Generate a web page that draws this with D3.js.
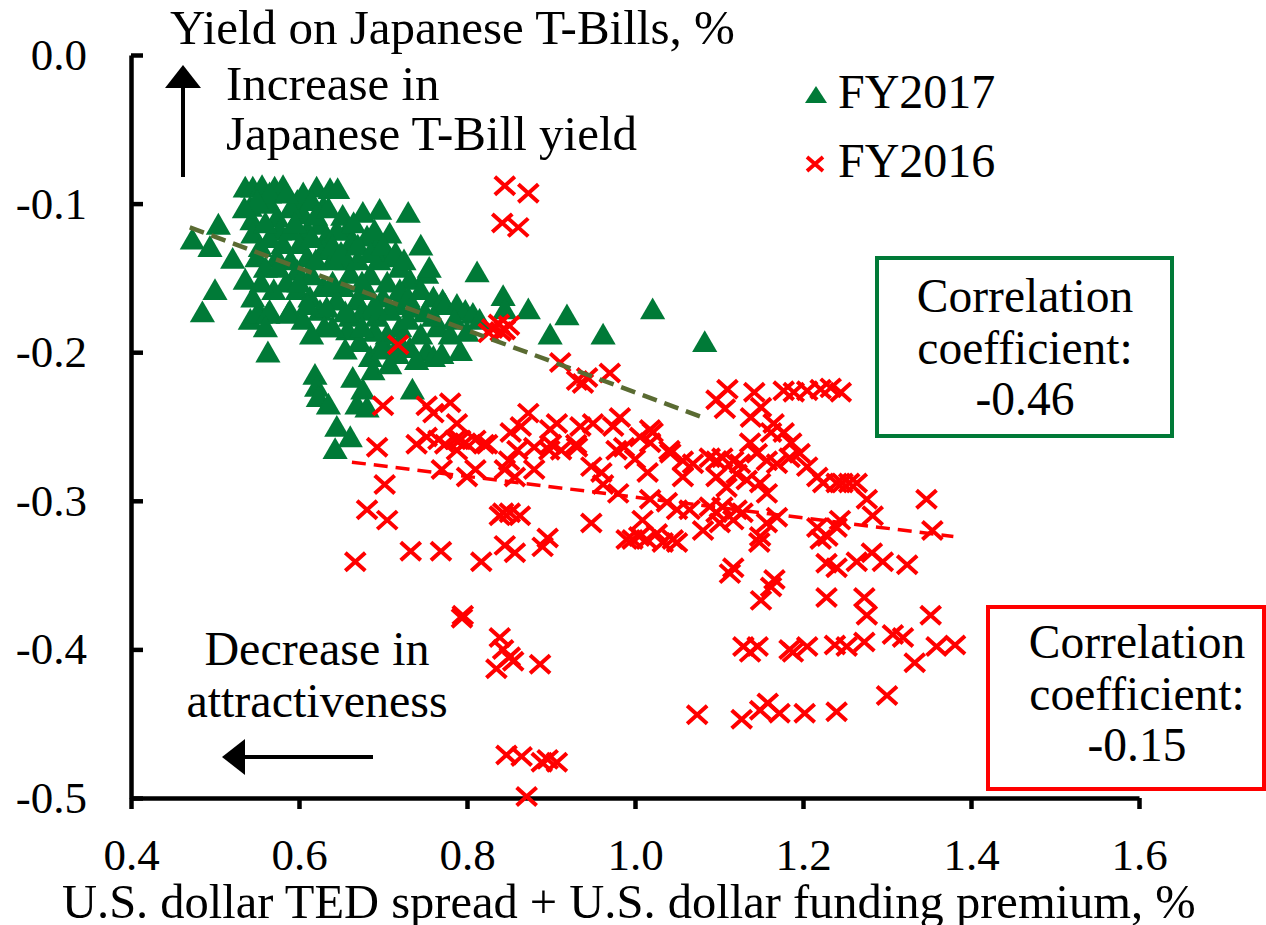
<!DOCTYPE html>
<html>
<head>
<meta charset="utf-8">
<script src="https://cdn.jsdelivr.net/npm/d3@7"></script>
<style>
  html, body { margin: 0; padding: 0; background: #fff; }
  svg { display: block; font-family: "Liberation Serif", "Times New Roman", serif; }
</style>
</head>
<body>
<svg id="chart" width="1266" height="925"></svg>
<script>
// Japanese T-Bill yield vs USD TED spread + funding premium, FY2016 / FY2017

var X_TICKS = [0.4, 0.6, 0.8, 1.0, 1.2, 1.4, 1.6];
var Y_TICKS = [0.0, -0.1, -0.2, -0.3, -0.4, -0.5];

var SERIES_NAMES = ["FY2017", "FY2016"];
var CORR_2017 = "-0.46";
var CORR_2016 = "-0.15";

// fitted lines, endpoints
var TREND_2017 = [[0.470, -0.116], [1.081, -0.244]];
var TREND_2016 = [[0.663, -0.274], [1.379, -0.324]];

// FY2017 (green triangles)
var FY2017 = [
  [0.473,-0.126],[0.504,-0.116],[0.494,-0.131],[0.521,-0.139],[0.536,-0.153],[0.500,-0.160],[0.485,-0.175],
  [0.536,-0.091],[0.545,-0.091],[0.556,-0.090],[0.571,-0.091],[0.581,-0.090],
  [0.621,-0.091],[0.637,-0.092],[0.646,-0.092],
  [0.542,-0.104],[0.544,-0.113],[0.545,-0.122],[0.554,-0.131],[0.550,-0.138],
  [0.565,-0.102],[0.574,-0.111],[0.577,-0.120],[0.581,-0.129],[0.574,-0.138],
  [0.598,-0.100],[0.605,-0.109],[0.610,-0.120],[0.601,-0.129],[0.610,-0.138],[0.598,-0.147],
  [0.629,-0.104],[0.625,-0.116],[0.633,-0.124],[0.629,-0.133],
  [0.652,-0.110],[0.657,-0.120],[0.661,-0.129],[0.657,-0.140],[0.661,-0.149],[0.652,-0.158],
  [0.676,-0.108],[0.696,-0.106],[0.730,-0.108],
  [0.681,-0.124],[0.693,-0.131],[0.708,-0.122],[0.708,-0.138],[0.720,-0.145],[0.732,-0.153],[0.752,-0.149],
  [0.598,-0.160],[0.613,-0.165],[0.629,-0.158],[0.645,-0.167],[0.669,-0.167],[0.681,-0.160],[0.700,-0.165],
  [0.717,-0.170],[0.736,-0.172],[0.760,-0.165],[0.771,-0.167],
  [0.554,-0.176],[0.565,-0.174],[0.589,-0.174],[0.625,-0.174],
  [0.542,-0.180],[0.550,-0.176],[0.563,-0.176],[0.587,-0.176],
  [0.560,-0.185],[0.563,-0.202],[0.633,-0.172],
  [0.661,-0.178],[0.676,-0.174],[0.693,-0.178],[0.708,-0.174],[0.658,-0.187],
  [0.685,-0.205],[0.700,-0.196],[0.717,-0.203],[0.732,-0.199],[0.752,-0.201],[0.760,-0.205],[0.740,-0.207],
  [0.688,-0.214],[0.708,-0.210],
  [0.619,-0.217],[0.621,-0.225],[0.623,-0.232],[0.635,-0.237],
  [0.664,-0.219],[0.676,-0.227],[0.669,-0.237],[0.681,-0.239],
  [0.645,-0.252],[0.661,-0.259],[0.643,-0.267],[0.735,-0.227],
  [0.812,-0.148],[0.843,-0.164],[0.845,-0.173],[0.873,-0.173],[0.919,-0.177],[0.899,-0.190],[0.962,-0.190],
  [1.021,-0.173],[1.083,-0.195],
  [0.774,-0.170],[0.788,-0.170],[0.798,-0.174],[0.807,-0.176],[0.792,-0.201],[0.770,-0.203],
  [0.720,-0.185],[0.745,-0.190],[0.765,-0.185],[0.780,-0.190],[0.730,-0.180],[0.705,-0.190],[0.690,-0.188],
  [0.672,-0.195],[0.760,-0.178],[0.785,-0.180],[0.800,-0.188],[0.815,-0.180],
  [0.590,-0.120],[0.590,-0.140],[0.585,-0.155],[0.615,-0.150],[0.640,-0.140],[0.645,-0.120],[0.620,-0.140],
  [0.670,-0.140],[0.685,-0.150],[0.695,-0.140],[0.705,-0.155],[0.720,-0.160],[0.640,-0.155],[0.675,-0.155],
  [0.565,-0.125],[0.560,-0.145],[0.570,-0.160],[0.605,-0.180],[0.640,-0.185],[0.655,-0.200],
  [0.605,-0.095],[0.590,-0.105],[0.565,-0.095],[0.615,-0.100],[0.745,-0.130],[0.755,-0.145],
  [0.550,-0.100],[0.560,-0.115],[0.585,-0.095],[0.595,-0.115],[0.615,-0.125],[0.620,-0.110],[0.635,-0.105],
  [0.640,-0.130],[0.650,-0.135],[0.665,-0.115],[0.670,-0.130],[0.685,-0.135],[0.690,-0.120],[0.700,-0.130],
  [0.715,-0.135],[0.725,-0.140],[0.730,-0.165],[0.745,-0.160],[0.750,-0.175],[0.690,-0.170],[0.655,-0.175],
  [0.630,-0.185],[0.615,-0.190],[0.700,-0.200],[0.720,-0.195],[0.675,-0.185],[0.610,-0.170],[0.575,-0.145],
  [0.600,-0.155],[0.535,-0.105],[0.555,-0.155],[0.545,-0.165]
];

// FY2016 (red crosses)
var FY2016 = [
  [0.845,-0.088],[0.873,-0.093],[0.842,-0.113],[0.861,-0.116],
  [0.830,-0.184],[0.838,-0.181],[0.845,-0.185],[0.826,-0.187],[0.850,-0.182],[0.840,-0.186],
  [0.718,-0.195],
  [0.911,-0.207],[0.931,-0.219],[0.943,-0.217],[0.938,-0.221],[0.970,-0.214],
  [1.097,-0.232],[1.110,-0.225],[1.107,-0.238],
  [0.873,-0.241],[0.780,-0.234],[0.788,-0.248],
  [0.852,-0.254],[0.864,-0.250],[0.907,-0.248],[0.899,-0.252],[0.935,-0.250],[0.950,-0.248],[0.982,-0.244],
  [0.974,-0.250],[1.006,-0.257],[1.021,-0.254],
  [0.792,-0.259],[0.824,-0.262],[0.788,-0.266],[0.898,-0.266],[0.931,-0.264],[0.987,-0.264],[1.041,-0.266],
  [1.142,-0.227],[1.150,-0.237],[1.177,-0.226],[1.189,-0.227],[1.205,-0.226],[1.221,-0.225],[1.233,-0.224],[1.245,-0.227],
  [1.138,-0.244],[1.165,-0.248],[1.177,-0.254],[1.162,-0.254],[1.186,-0.261],
  [1.018,-0.252],[1.018,-0.261],
  [1.042,-0.268],[1.057,-0.273],[1.069,-0.275],[1.057,-0.284],
  [1.089,-0.271],[1.097,-0.273],[1.104,-0.271],[1.117,-0.273],[1.125,-0.275],
  [1.137,-0.261],[1.145,-0.268],[1.157,-0.273],[1.169,-0.275],[1.184,-0.271],[1.196,-0.268],[1.205,-0.277],
  [1.217,-0.284],[1.224,-0.288],[1.240,-0.288],[1.247,-0.288],[1.255,-0.288],[1.264,-0.288],
  [1.097,-0.284],[1.109,-0.291],[1.121,-0.282],[1.133,-0.286],[1.149,-0.288],[1.157,-0.295],
  [1.276,-0.299],[1.283,-0.310],[1.347,-0.299],[1.354,-0.320],
  [1.018,-0.299],[1.038,-0.301],[1.050,-0.306],[1.065,-0.306],[1.089,-0.304],[1.097,-0.308],[1.104,-0.304],
  [1.121,-0.306],[1.128,-0.308],
  [1.081,-0.320],[1.101,-0.315],[1.117,-0.313],[1.149,-0.324],[1.157,-0.315],[1.169,-0.311],[1.217,-0.318],
  [1.229,-0.324],[1.240,-0.318],[1.244,-0.313],
  [1.026,-0.322],[1.045,-0.326],[1.221,-0.326],
  [1.033,-0.328],[1.050,-0.328],[1.148,-0.328],
  [1.117,-0.345],[1.113,-0.349],[1.166,-0.353],[1.162,-0.358],[1.150,-0.367],
  [1.228,-0.342],[1.240,-0.345],[1.264,-0.341],[1.282,-0.335],[1.295,-0.341],[1.324,-0.343],
  [1.228,-0.365],[1.273,-0.365],[1.276,-0.377],[1.352,-0.377],
  [1.129,-0.398],[1.146,-0.398],[1.137,-0.402],[1.184,-0.400],[1.188,-0.402],[1.205,-0.398],[1.238,-0.397],
  [1.252,-0.398],[1.273,-0.395],[1.307,-0.390],[1.319,-0.392],[1.333,-0.409],[1.359,-0.398],[1.381,-0.397],
  [1.300,-0.431],
  [1.074,-0.444],[1.127,-0.447],[1.149,-0.441],[1.158,-0.436],[1.172,-0.443],[1.202,-0.443],[1.240,-0.442],
  [0.681,-0.306],[0.705,-0.313],[0.667,-0.341],[0.733,-0.334],[0.769,-0.334],[0.817,-0.341],
  [0.843,-0.308],[0.851,-0.308],[0.863,-0.310],[0.839,-0.310],
  [0.845,-0.330],[0.857,-0.335],[0.890,-0.331],[0.896,-0.325],[0.948,-0.315],
  [0.990,-0.326],[0.997,-0.326],[1.005,-0.324],[1.014,-0.326],[1.009,-0.313],
  [0.795,-0.377],[0.794,-0.379],
  [0.839,-0.392],[0.843,-0.400],[0.851,-0.405],[0.835,-0.413],[0.855,-0.408],[0.887,-0.410],
  [0.847,-0.471],[0.865,-0.472],[0.889,-0.476],[0.907,-0.476],[0.896,-0.474],[0.871,-0.499],
  [0.700,-0.236],[0.693,-0.264],[0.752,-0.236],[0.760,-0.241],[0.702,-0.289],
  [0.740,-0.262],[0.752,-0.257],[0.766,-0.259],[0.774,-0.262],[0.786,-0.259],[0.798,-0.261],[0.810,-0.259],
  [0.820,-0.262],[0.850,-0.273],[0.860,-0.266],[0.880,-0.264],[0.770,-0.279],[0.800,-0.284],[0.810,-0.279],
  [0.845,-0.279],[0.857,-0.284],[0.880,-0.279],[0.900,-0.262],[0.912,-0.266],[0.930,-0.262],[0.948,-0.277],
  [0.960,-0.281],[0.978,-0.266],[1.000,-0.272],[1.015,-0.281],[0.962,-0.289],[0.980,-0.295]
];

var GREEN = "#007a37", RED = "#ff0000", OLIVE = "#5a6b32", INK = "#000";

var svg = d3.select("#chart");
var x = d3.scaleLinear().domain([0.4, 1.6]).range([131, 1139]);
var y = d3.scaleLinear().domain([-0.5, 0]).range([798, 55]);
var fmt = function (d) { return d.toFixed(1); };

// axes
var gy = svg.append("g").attr("transform", "translate(" + x(0.4) + ",0)")
  .call(d3.axisLeft(y).tickValues(Y_TICKS).tickFormat(fmt).tickSizeInner(-12).tickSizeOuter(0).tickPadding(44));
var gx = svg.append("g").attr("transform", "translate(0," + y(-0.5) + ")")
  .call(d3.axisBottom(x).tickValues(X_TICKS).tickFormat(fmt).tickSizeInner(11).tickSizeOuter(0).tickPadding(29));
[gx, gy].forEach(function (g) {
  g.select(".domain").attr("stroke", INK).attr("stroke-width", 4.5);
  g.selectAll(".tick line").attr("stroke", INK).attr("stroke-width", 4.5);
  g.selectAll(".tick text").attr("fill", INK).style("font-size", "45px")
    .style("font-family", "'Liberation Serif', 'Times New Roman', serif");
});

// points
var tri = d3.symbol().type(d3.symbolTriangle).size(275);
svg.append("g").selectAll("path").data(FY2017).join("path")
  .attr("d", tri).attr("fill", GREEN)
  .attr("transform", function (d) { return "translate(" + x(d[0]) + "," + y(d[1]) + ")"; });

var cross = "M-10,-9L10,9M-10,9L10,-9";
svg.append("g").selectAll("path").data(FY2016).join("path")
  .attr("d", cross).attr("fill", "none").attr("stroke", RED).attr("stroke-width", 4)
  .attr("transform", function (d) { return "translate(" + x(d[0]) + "," + y(d[1]) + ")"; });

// trend lines
var line = d3.line().x(function (d) { return x(d[0]); }).y(function (d) { return y(d[1]); });
svg.append("path").attr("d", line(TREND_2017)).attr("fill", "none")
  .attr("stroke", OLIVE).attr("stroke-width", 4.5).attr("stroke-dasharray", "15 8");
svg.append("path").attr("d", line(TREND_2016)).attr("fill", "none")
  .attr("stroke", RED).attr("stroke-width", 3.5).attr("stroke-dasharray", "14 8");

// axis titles
svg.append("text").attr("x", 170).attr("y", 44).style("font-size", "49px").text("Yield on Japanese T-Bills, %");
svg.append("text").attr("x", 62).attr("y", 918).style("font-size", "48.5px")
  .text("U.S. dollar TED spread + U.S. dollar funding premium, %");

// arrows and annotations
svg.append("line").attr("x1", 183).attr("x2", 183).attr("y1", 177).attr("y2", 86)
  .attr("stroke", INK).attr("stroke-width", 4);
svg.append("path").attr("d", "M183,65L201,88L165,88Z").attr("fill", INK);
svg.append("text").attr("x", 226).attr("y", 100).style("font-size", "49px").text("Increase in");
svg.append("text").attr("x", 226).attr("y", 150).style("font-size", "49px").text("Japanese T-Bill yield");

svg.append("line").attr("x1", 373).attr("x2", 242).attr("y1", 757).attr("y2", 757)
  .attr("stroke", INK).attr("stroke-width", 4);
svg.append("path").attr("d", "M222,757L245,739L245,775Z").attr("fill", INK);
svg.append("text").attr("x", 317).attr("y", 665).attr("text-anchor", "middle").style("font-size", "48px").text("Decrease in");
svg.append("text").attr("x", 317).attr("y", 717).attr("text-anchor", "middle").style("font-size", "48px").text("attractiveness");

// legend
svg.append("path").attr("d", "M816,86L827,103L805,103Z").attr("fill", GREEN);
svg.append("text").attr("x", 838).attr("y", 108).style("font-size", "48px").text(SERIES_NAMES[0]);
svg.append("path").attr("d", "M807,157L823,171M807,171L823,157").attr("stroke", RED).attr("stroke-width", 3.8);
svg.append("text").attr("x", 838).attr("y", 177).style("font-size", "48px").text(SERIES_NAMES[1]);

// correlation boxes
function corrBox(x0, y0, w, h, color, cx, top, value) {
  svg.append("rect").attr("x", x0).attr("y", y0).attr("width", w).attr("height", h)
    .attr("fill", "#fff").attr("stroke", color).attr("stroke-width", 4);
  ["Correlation", "coefficient:", value].forEach(function (t, i) {
    svg.append("text").attr("x", cx).attr("y", top + i * 51.5).attr("text-anchor", "middle")
      .style("font-size", "47.5px").text(t);
  });
}
corrBox(877, 258, 295, 178, GREEN, 1025, 312, CORR_2017);
corrBox(988, 607, 276, 182, RED, 1137, 658, CORR_2016);
</script>
</body>
</html>
